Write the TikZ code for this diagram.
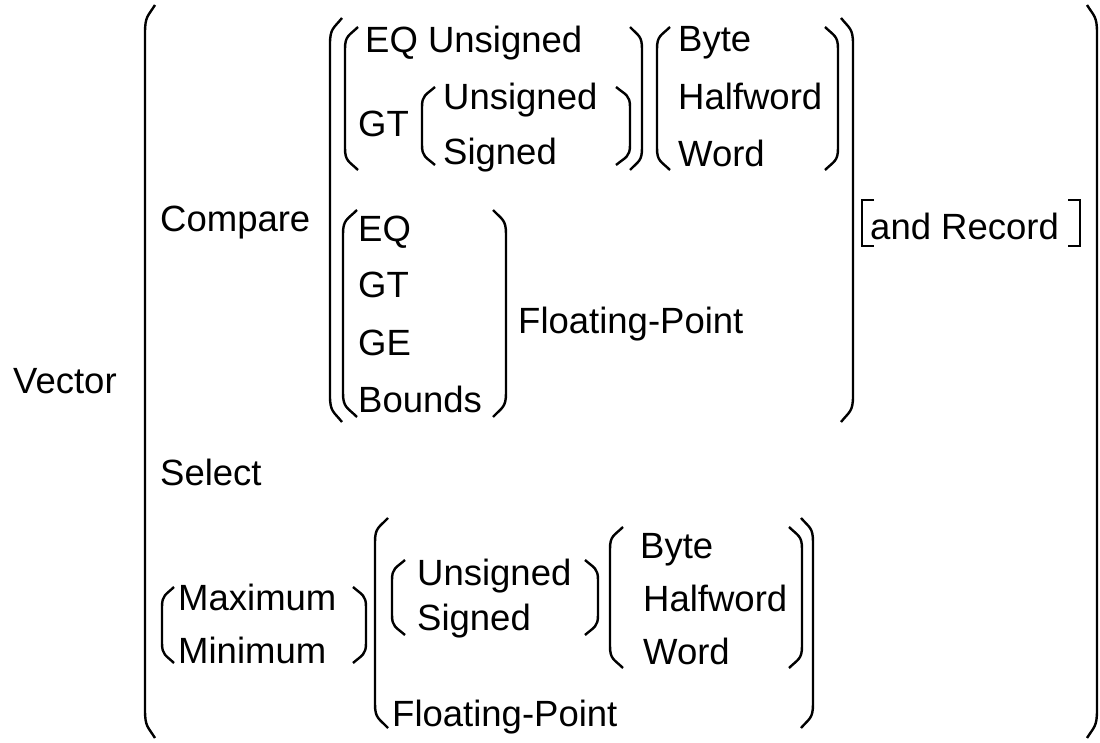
\documentclass[tikz,border=0pt]{standalone}
\usepackage{fontspec}
\setmainfont{Liberation Sans}
\newcommand\mypar[5]{%
 \pgfmathsetmacro\mpA{#3+#5}\pgfmathsetmacro\mpB{#4-#5}%
 \pgfmathsetmacro\mpC{#3+0.4*#5}\pgfmathsetmacro\mpD{#4-0.4*#5}%
 \pgfmathsetmacro\mpE{#1+0.3*(#2-#1)}%
 \draw[parline] (#2,#3) .. controls (\mpE,\mpC) and (#1,\mpC) .. (#1,\mpA) -- (#1,\mpB) .. controls (#1,\mpD) and (\mpE,\mpD) .. (#2,#4);}
\begin{document}
\begin{tikzpicture}[x=1pt,y=-1pt,
  parline/.style={line width=2.4pt,black},
  brk/.style={line width=2.8pt,black},
  lbl/.style={anchor=base west,inner sep=0pt,font=\fontsize{36.5}{40}\selectfont}]
\useasboundingbox (0,0) rectangle (1100,743);
% outer parens
\mypar{145}{155}{5}{738}{28}
\mypar{1097}{1087}{5}{738}{28}
\node[lbl] (vector) at (13,393) {Vector};
\node[lbl] (compare) at (160,232) {Compare};
% compare group
\mypar{330}{342}{18}{422}{26}
\mypar{853}{841}{18}{422}{26}
\mypar{345}{358}{27}{170}{22}
\mypar{642}{630}{27}{170}{22}
\node[lbl] (equ) at (365,53) {EQ Unsigned};
\node[lbl] (gt) at (358,137) {GT};
\mypar{422}{435}{87}{165}{20}
\mypar{630}{616}{87}{165}{20}
\node[lbl] (uns1) at (443,110) {Unsigned};
\node[lbl] (sig1) at (443,165) {Signed};
\mypar{657}{670}{27}{170}{22}
\mypar{838}{825}{27}{170}{22}
\node[lbl] (byte1) at (678,52) {Byte};
\node[lbl] (half1) at (678,110) {Halfword};
\node[lbl] (word1) at (678,167) {Word};
\mypar{343}{357}{210}{417}{24}
\mypar{506}{493}{210}{417}{24}
\node[lbl] (eq) at (358,242) {EQ};
\node[lbl] (gt2) at (358,298) {GT};
\node[lbl] (ge) at (358,355) {GE};
\node[lbl] (bounds) at (358,412) {Bounds};
\node[lbl] (fp1) at (518,333) {Floating-Point};
\draw[brk] (874,200) -- (862,200) -- (862,246) -- (874,246);
\draw[brk] (1068,200) -- (1080,200) -- (1080,246) -- (1068,246);
\node[lbl] (rec) at (870,240) {and Record};
% select
\node[lbl] (select) at (160,485) {Select};
% max/min group
\mypar{162}{174}{587}{663}{20}
\mypar{366}{353}{587}{663}{20}
\node[lbl] (max) at (178,610) {Maximum};
\node[lbl] (min) at (178,663) {Minimum};
\mypar{375}{388}{518}{728}{24}
\mypar{813}{801}{518}{728}{24}
\mypar{392}{405}{560}{635}{20}
\mypar{598}{585}{560}{635}{20}
\node[lbl] (uns2) at (417,585) {Unsigned};
\node[lbl] (sig2) at (417,630) {Signed};
\mypar{610}{623}{527}{668}{22}
\mypar{802}{789}{527}{668}{22}
\node[lbl] (byte2) at (640,558) {Byte};
\node[lbl] (half2) at (643,611) {Halfword};
\node[lbl] (word2) at (643,664) {Word};
\node[lbl] (fp2) at (392,726) {Floating-Point};
\end{tikzpicture}
\end{document}
